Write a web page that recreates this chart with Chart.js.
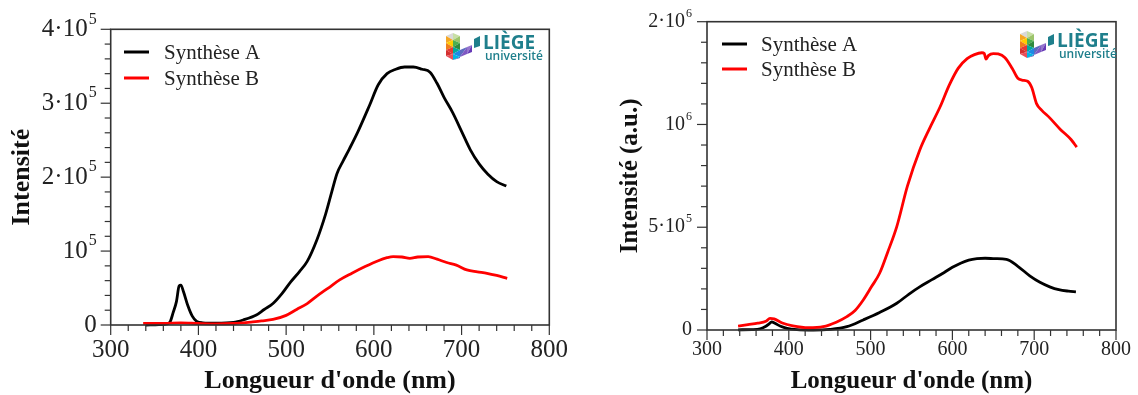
<!DOCTYPE html>
<html><head><meta charset="utf-8">
<script src="https://cdn.jsdelivr.net/npm/chart.js@4.4.1/dist/chart.umd.min.js"></script>
<style>
html,body{margin:0;padding:0;background:#fff;}
#wrap{position:relative;width:1138px;height:395px;overflow:hidden;background:#fff;}
#c1{position:absolute;left:0;top:0;}
#c2{position:absolute;left:570px;top:0;}
</style></head><body>
<div id="wrap"><canvas id="c1" width="570" height="395"></canvas><canvas id="c2" width="568" height="395"></canvas></div>
<script>
// ---------- DATA ----------
const seriesNames = ["Synthèse A", "Synthèse B"];

// Left chart
const leftA_nm  = [340,355,364,368,371,375,378,380,383,388,393,398,405,420,440,451,466,475,485,495,505,515,524,535,545,552,558,565,572,582,595,605,615,625,635,645,655,664,672,680,690,700,710,720,730,740,751];
const leftA_val = [0,500,1500,5000,16000,32000,53000,54000,45000,26000,12000,5000,3000,2500,3500,6800,13500,21000,29000,42000,58000,72000,86000,115000,150000,180000,205000,222000,238000,262000,297000,325000,340000,346000,349000,349000,346000,342000,327000,308000,287000,262000,237000,218000,204000,194000,188000];
const leftB_nm  = [337,360,380,400,420,440,447,460,472,485,500,512,524,535,548,561,575,590,605,615,622,632,641,650,662,672,683,694,706,718,729,740,752];
const leftB_val = [2300,2300,2800,2000,1500,2000,2500,4000,5500,7500,13000,21000,29000,39000,50000,61000,70000,79000,87000,91000,92500,92000,90000,92000,92500,89000,84500,81000,74500,72000,70000,67000,63000];

// Right chart
const rightA_nm  = [338,355,365,372,376,379,383,390,398,410,430,450,471,491,511,532,547,560,575,590,600,610,620,630,640,652,666,680,695,707,719,730,742,751];
const rightA_val = [1000,2000,6000,18000,30000,40000,33000,18000,8000,2000,0,3000,16000,49000,85000,130000,175000,210000,245000,280000,305000,325000,340000,347000,349000,347000,344000,310000,262000,232000,210000,196000,189000,186000];
const rightB_nm  = [338,350,362,372,377,382,392,405,424,442,458,471,481,491,501,511,521,532,545,560,572,585,596,607,618,627,636,639,641,644,650,656,664,673,680,685,692,697,703,709,719,732,745,752];
const rightB_val = [19000,26000,33000,42000,57000,54000,34000,20000,11000,16000,38000,65000,95000,146000,210000,276000,380000,503000,700000,875000,980000,1086000,1190000,1273000,1320000,1340000,1349000,1345000,1318000,1335000,1345000,1343000,1326000,1274000,1225000,1216000,1210000,1180000,1100000,1070000,1032000,976000,927000,890000];

// Tick values / labels
const xTickValues = [300,400,500,600,700,800];
const leftYTickValues  = [0,100000,200000,300000,400000];
const leftYTickLabels  = ["0","10^5","2·10^5","3·10^5","4·10^5"];
const rightYTickValues = [0,500000,1000000,1500000];
const rightYTickLabels = ["0","5·10^5","10^6","2·10^6"];

const xTitle = "Longueur d'onde (nm)";
const leftYTitle = "Intensité";
const rightYTitle = "Intensité (a.u.)";
const logoName = "LIÈGE";
const logoSub = "université";

// ---------- helpers ----------
const pts = (xs, ys) => xs.map((x, i) => ({x: x, y: ys[i]}));
const SERIF = '"Liberation Serif", "Times New Roman", serif';

function drawSupLabel(ctx, label, x, yMid, size, align) {
  const parts = label.split('^');
  const base = parts[0], exp = parts[1] || '';
  const es = Math.round(size * 0.62);
  ctx.font = size + 'px ' + SERIF;
  const wb = ctx.measureText(base).width;
  ctx.font = es + 'px ' + SERIF;
  const we = exp ? ctx.measureText(exp).width + 1 : 0;
  let x0 = x;
  if (align === 'right') x0 = x - wb - we;
  else if (align === 'center') x0 = x - (wb + we) / 2;
  ctx.textAlign = 'left';
  ctx.textBaseline = 'middle';
  ctx.font = size + 'px ' + SERIF;
  ctx.fillText(base, x0, yMid);
  if (exp) {
    ctx.font = es + 'px ' + SERIF;
    ctx.fillText(exp, x0 + wb + 1, yMid - size * 0.4);
  }
}

function drawLogo(ctx, lx, by) {
  // icon: faceted "L" block
  ctx.save();
  ctx.translate(lx - 37, by - 16);
  const tri = (a, b, c, col) => { ctx.fillStyle = col; ctx.beginPath(); ctx.moveTo(a[0], a[1]); ctx.lineTo(b[0], b[1]); ctx.lineTo(c[0], c[1]); ctx.closePath(); ctx.fill(); };
  tri([0,3],[7,0],[7,7],'#d9d9d9');
  tri([7,0],[14,3],[7,7],'#c8dfa5');
  tri([14,3],[7,7],[14,10],'#9cc46a');
  tri([0,3],[7,7],[0,10],'#f5a623');
  tri([0,10],[7,7],[7,14],'#ffcc00');
  tri([7,7],[14,10],[7,14],'#4caf50');
  tri([14,10],[7,14],[14,17],'#2e8b3e');
  tri([0,10],[7,14],[0,17],'#f07f1a');
  tri([0,17],[7,14],[7,21],'#e53935');
  tri([7,14],[14,17],[7,21],'#00a99d');
  tri([14,17],[7,21],[14,24],'#1e88e5');
  tri([0,17],[7,21],[0,23],'#d32f2f');
  tri([0,23],[7,21],[7,27],'#e8505b');
  tri([7,21],[14,24],[7,27],'#00b5e2');
  tri([14,24],[7,27],[14,25],'#3f51b5');
  tri([14,17],[21,14],[14,24],'#5c6bc0');
  tri([21,14],[14,24],[21,21],'#7e57c2');
  tri([21,14],[26,12],[21,21],'#9575cd');
  tri([26,12],[21,21],[26,19],'#673ab7');
  ctx.restore();
  // flag
  ctx.fillStyle = '#1f7f8c';
  ctx.beginPath(); ctx.moveTo(lx-9, by-10); ctx.lineTo(lx-3, by-13); ctx.lineTo(lx-3, by-3); ctx.lineTo(lx-9, by-1); ctx.closePath(); ctx.fill();
  // text
  ctx.fillStyle = '#1f7f8c';
  ctx.textAlign = 'left'; ctx.textBaseline = 'alphabetic';
  ctx.font = 'bold 19px "Open Sans", "DejaVu Sans", sans-serif';
  try { ctx.letterSpacing = '0px'; } catch(e) {}
  ctx.fillText(logoName, lx, by);
  ctx.font = '600 12px "Open Sans", "DejaVu Sans", sans-serif';
  ctx.fillText(logoSub, lx + 2, by + 11);
}

const deco = {
  id: 'deco',
  afterDraw(chart, args, o) {
    const ctx = chart.ctx, ca = chart.chartArea, xs = chart.scales.x, ys = chart.scales.y;
    ctx.save();
    const axisCol = '#333';
    ctx.strokeStyle = axisCol; ctx.lineWidth = 1.6;
    ctx.strokeRect(ca.left, ca.top, ca.right - ca.left, ca.bottom - ca.top);
    ctx.lineWidth = 1.2;
    for (let v = xs.min; v <= xs.max + 1e-6; v += o.xMinor) {
      const px = xs.getPixelForValue(v);
      const major = xTickValues.includes(v);
      ctx.beginPath(); ctx.moveTo(px, ca.bottom); ctx.lineTo(px, ca.bottom + (major ? o.majorLen : o.minorLen)); ctx.stroke();
    }
    for (let v = ys.min; v <= ys.max + 1e-6; v += o.yMinor) {
      const py = ys.getPixelForValue(v);
      const major = o.yTicks.includes(v);
      ctx.beginPath(); ctx.moveTo(ca.left, py); ctx.lineTo(ca.left - (major ? o.majorLen : o.minorLen), py); ctx.stroke();
    }
    ctx.fillStyle = '#222';
    xTickValues.forEach(v => {
      drawSupLabel(ctx, String(v), xs.getPixelForValue(v), o.xLabelY, o.tickSize, 'center');
    });
    o.yTicks.forEach((v, i) => {
      drawSupLabel(ctx, o.yLabels[i], ca.left - o.yLabelGap, ys.getPixelForValue(v), o.tickSize, 'right');
    });
    ctx.fillStyle = '#111';
    ctx.font = 'bold ' + o.titleSize + 'px ' + SERIF;
    ctx.textAlign = 'center'; ctx.textBaseline = 'middle';
    ctx.fillText(xTitle, (ca.left + ca.right) / 2, o.xTitleY);
    ctx.save();
    ctx.translate(o.yTitleX, (ca.top + ca.bottom) / 2);
    ctx.rotate(-Math.PI / 2);
    ctx.font = 'bold ' + o.yTitleSize + 'px ' + SERIF;
    ctx.fillText(o.yTitle, 0, 0);
    ctx.restore();
    chart.data.datasets.forEach((ds, i) => {
      const y = o.legY + i * o.legDy;
      ctx.strokeStyle = ds.borderColor; ctx.lineWidth = 3;
      ctx.beginPath(); ctx.moveTo(o.legX, y); ctx.lineTo(o.legX + o.legLen, y); ctx.stroke();
      ctx.fillStyle = '#222';
      ctx.font = o.legSize + 'px ' + SERIF;
      ctx.textAlign = 'left'; ctx.textBaseline = 'middle';
      ctx.fillText(ds.label, o.legX + o.legLen + o.legGap, y + 1);
    });
    drawLogo(ctx, o.logoX, o.logoY);
    ctx.restore();
  }
};

function makeChart(id, dA, dB, yMax, layout, decoOpts) {
  return new Chart(document.getElementById(id), {
    type: 'line',
    data: { datasets: [
      { label: seriesNames[0], data: dA, borderColor: '#000000', borderWidth: 2.8, pointRadius: 0, cubicInterpolationMode: 'monotone', clip: false, order: 1 },
      { label: seriesNames[1], data: dB, borderColor: '#ff0000', borderWidth: 2.8, pointRadius: 0, cubicInterpolationMode: 'monotone', clip: false, order: 0 }
    ]},
    options: {
      responsive: false, animation: false, devicePixelRatio: 1,
      layout: { padding: { left: 0, right: layout.right, top: layout.top, bottom: 0 } },
      plugins: { legend: { display: false }, tooltip: { enabled: false }, deco: decoOpts },
      scales: {
        x: { type: 'linear', min: 300, max: 800, grid: { display: false }, border: { display: false }, ticks: { display: false },
             afterFit: s => { s.height = layout.xAxisH; } },
        y: { type: 'linear', min: 0, max: yMax, grid: { display: false }, border: { display: false }, ticks: { display: false },
             afterFit: s => { s.width = layout.yAxisW; } }
      }
    },
    plugins: [deco]
  });
}

makeChart('c1', pts(leftA_nm, leftA_val), pts(leftB_nm, leftB_val), 400000,
  { right: 20.7, top: 29.3, xAxisH: 70, yAxisW: 110.7 },
  { xMinor: 20, yMinor: 20000, yTicks: leftYTickValues, yLabels: leftYTickLabels, majorLen: 10, minorLen: 6,
    xLabelY: 350, yLabelGap: 14, tickSize: 25, titleSize: 26, xTitleY: 381, yTitle: leftYTitle, yTitleX: 22, yTitleSize: 26,
    legX: 124, legY: 52, legDy: 26, legLen: 25, legGap: 15, legSize: 21, logoX: 483, logoY: 49 });

makeChart('c2', pts(rightA_nm, rightA_val), pts(rightB_nm, rightB_val), 1500000,
  { right: 22, top: 21.7, xAxisH: 65, yAxisW: 137 },
  { xMinor: 20, yMinor: 100000, yTicks: rightYTickValues, yLabels: rightYTickLabels, majorLen: 10, minorLen: 6,
    xLabelY: 350, yLabelGap: 15, tickSize: 20, titleSize: 25, xTitleY: 382, yTitle: rightYTitle, yTitleX: 61, yTitleSize: 25,
    legX: 152, legY: 44, legDy: 25, legLen: 25, legGap: 14, legSize: 21, logoX: 487, logoY: 47 });
</script>
</body></html>
